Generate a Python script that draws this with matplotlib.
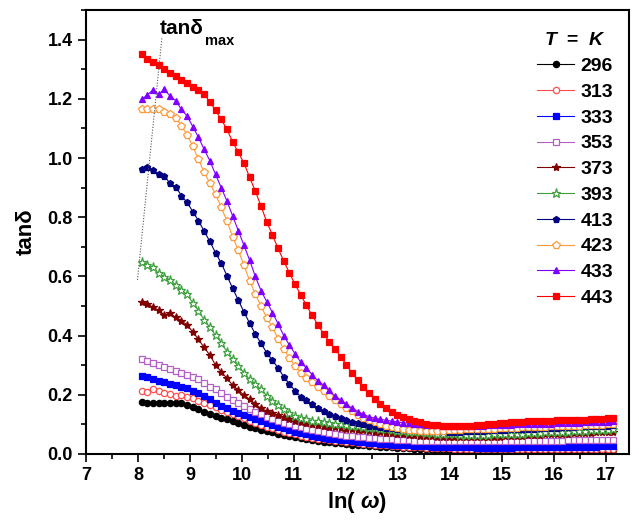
import matplotlib
matplotlib.use("Agg")
import matplotlib.pyplot as plt
import numpy as np
from matplotlib.ticker import MultipleLocator, FormatStrFormatter

plt.rcParams['font.family'] = ['Liberation Sans', 'DejaVu Sans']
plt.rcParams['font.weight'] = 'bold'
plt.rcParams['mathtext.fontset'] = 'custom'
plt.rcParams['mathtext.it'] = 'Liberation Sans:italic:bold'
plt.rcParams['mathtext.rm'] = 'Liberation Sans:bold'

# ln(omega) range covered by the measured points
lnw_start, lnw_stop = 8.07, 17.15

temps = ["296", "313", "333", "353", "373", "393", "413", "423", "433", "443"]

t296 = [.177, .173, .173, .173, .173, .171, .171, .171, .167, .160,
        .152, .143, .135, .128, .123, .117, .111, .106, .098, .092,
        .087, .081, .078, .073, .069, .064, .060, .057, .053, .051,
        .047, .045, .042, .040, .038, .036, .034, .032, .030, .029,
        .027, .026, .024, .023, .022, .021, .020, .019, .018, .017,
        .016, .015, .015, .014, .014, .013, .013, .013, .012, .012,
        .012, .012, .012, .012, .012, .012, .012, .012, .012, .012,
        .012, .012, .012, .012, .012, .012, .012, .012, .012, .012,
        .012, .012, .013, .013]
t313 = [.213, .211, .219, .214, .207, .203, .196, .199, .194, .188,
        .180, .173, .166, .158, .149, .143, .135, .128, .120, .113,
        .106, .098, .092, .087, .081, .075, .070, .066, .062, .059,
        .055, .052, .050, .047, .045, .043, .041, .039, .037, .035,
        .033, .032, .030, .029, .027, .026, .025, .024, .023, .022,
        .021, .020, .020, .019, .019, .018, .018, .017, .017, .017,
        .017, .016, .016, .016, .016, .016, .016, .016, .016, .016,
        .016, .016, .016, .016, .016, .017, .017, .017, .017, .017,
        .017, .017, .018, .018]
t333 = [.265, .261, .252, .248, .244, .236, .233, .227, .222, .214,
        .205, .196, .185, .173, .163, .154, .146, .140, .132, .126,
        .118, .111, .104, .098, .092, .087, .081, .075, .070, .066,
        .062, .059, .055, .052, .050, .048, .046, .044, .042, .040,
        .038, .036, .035, .033, .032, .031, .030, .029, .028, .027,
        .026, .025, .024, .024, .023, .023, .022, .022, .022, .021,
        .021, .021, .021, .021, .021, .021, .022, .022, .022, .022,
        .022, .023, .023, .023, .023, .024, .024, .024, .025, .025,
        .025, .026, .026, .026]
t353 = [.321, .315, .309, .301, .295, .286, .281, .275, .267, .261,
        .253, .241, .227, .219, .205, .194, .182, .171, .162, .152,
        .143, .135, .126, .118, .111, .106, .100, .095, .090, .084,
        .081, .078, .073, .070, .066, .064, .062, .060, .058, .056,
        .054, .053, .051, .050, .049, .048, .047, .046, .045, .045,
        .044, .044, .043, .043, .043, .043, .043, .043, .043, .043,
        .043, .043, .044, .044, .044, .044, .044, .044, .045, .045,
        .045, .045, .045, .045, .045, .046, .046, .046, .046, .046,
        .047, .047, .047, .047]
t373 = [.515, .507, .496, .485, .470, .475, .462, .450, .436, .413,
        .387, .360, .334, .301, .278, .256, .233, .216, .199, .185,
        .169, .154, .145, .137, .131, .124, .118, .113, .108, .104,
        .100, .097, .095, .092, .090, .088, .086, .084, .082, .080,
        .078, .076, .074, .072, .070, .068, .066, .065, .063, .062,
        .061, .060, .059, .058, .057, .057, .056, .056, .056, .057,
        .057, .058, .058, .059, .060, .061, .061, .062, .063, .064,
        .065, .066, .066, .067, .068, .069, .070, .071, .072, .072,
        .073, .074, .074, .075]
t393 = [.650, .639, .631, .610, .599, .588, .571, .554, .539, .511,
        .484, .453, .428, .401, .376, .346, .320, .297, .275, .252,
        .236, .218, .197, .180, .166, .151, .137, .128, .123, .117,
        .113, .110, .107, .104, .102, .100, .097, .095, .093, .091,
        .089, .087, .085, .083, .081, .079, .077, .076, .074, .073,
        .071, .070, .069, .068, .067, .066, .065, .065, .064, .064,
        .065, .065, .066, .066, .067, .068, .069, .069, .070, .071,
        .072, .073, .074, .075, .075, .076, .077, .078, .079, .080,
        .080, .081, .082, .083]
t413 = [.963, .971, .958, .946, .940, .914, .903, .873, .850, .819,
        .788, .753, .718, .680, .645, .603, .560, .520, .480, .442,
        .405, .374, .342, .317, .291, .261, .236, .214, .193, .181,
        .169, .156, .145, .135, .127, .120, .114, .109, .104, .100,
        .096, .093, .091, .089, .087, .085, .084, .083, .082, .080,
        .079, .078, .077, .077, .076, .076, .076, .077, .077, .078,
        .079, .080, .080, .081, .082, .083, .084, .085, .086, .086,
        .087, .088, .089, .089, .090, .091, .092, .093, .093, .094,
        .095, .096, .096, .097]
t423 = [1.166, 1.166, 1.167, 1.166, 1.157, 1.148, 1.136, 1.109, 1.078, 1.040,
        .995, .952, .915, .877, .834, .788, .734, .689, .637, .586,
        .540, .500, .460, .428, .390, .355, .323, .298, .275, .258,
        .242, .226, .212, .197, .183, .168, .156, .145, .133, .123,
        .115, .107, .101, .096, .091, .087, .084, .082, .080, .079,
        .079, .078, .078, .079, .080, .081, .082, .083, .084, .084,
        .085, .086, .086, .087, .088, .088, .089, .090, .090, .091,
        .092, .092, .093, .094, .094, .095, .096, .096, .097, .098,
        .098, .099, .100, .100]
t433 = [1.198, 1.213, 1.230, 1.215, 1.232, 1.209, 1.194, 1.164, 1.142, 1.106,
        1.070, 1.029, .991, .945, .900, .855, .805, .755, .705, .655,
        .600, .552, .515, .478, .440, .400, .368, .338, .310, .290,
        .268, .247, .233, .215, .195, .183, .168, .155, .143, .134,
        .126, .121, .117, .114, .111, .108, .106, .104, .102, .100,
        .099, .098, .097, .096, .095, .095, .095, .095, .095, .096,
        .096, .097, .097, .098, .098, .099, .100, .100, .101, .101,
        .102, .102, .103, .104, .104, .105, .105, .106, .107, .107,
        .108, .108, .109, .110]
t443 = [1.350, 1.334, 1.323, 1.313, 1.300, 1.288, 1.276, 1.265, 1.255, 1.241,
        1.229, 1.215, 1.190, 1.161, 1.131, 1.097, 1.055, 1.019, .983, .935,
        .888, .838, .785, .740, .695, .652, .612, .573, .537, .502,
        .468, .437, .406, .380, .355, .329, .302, .274, .249, .225,
        .205, .187, .170, .154, .142, .133, .124, .117, .112, .107,
        .103, .099, .097, .095, .095, .094, .094, .095, .096, .098,
        .099, .101, .102, .104, .105, .107, .108, .109, .110, .111,
        .112, .113, .113, .114, .114, .115, .115, .116, .116, .117,
        .118, .119, .121, .122]

series = [t296, t313, t333, t353, t373, t393, t413, t423, t433, t443]

# line of maxima (tan delta max guide)
guide_x = [7.99, 8.46]
guide_y = [0.588, 1.405]

colors = ['black', '#ff4d4d', '#0000ff', '#b45ec8', '#800000',
          '#3ca03c', '#000080', '#ff9a3c', '#8000ff', '#ff0000']
markers = ['o', 'o', 's', 's', '*', '*', 'p', 'p', '^', 's']
filled = [True, False, True, False, True, False, True, False, True, True]
sizes = [4.5, 4.5, 4.5, 5, 6, 6.5, 5, 5.5, 5, 4.5]

fig = plt.figure(figsize=(6.39, 5.21), dpi=100)
ax = fig.add_axes([0.1346, 0.1286, 0.8498, 0.8522])

for t, y, c, m, f, s in zip(temps, series, colors, markers, filled, sizes):
    x = np.linspace(lnw_start, lnw_stop, len(y))
    ax.plot(x, y, color=c, lw=0.8, marker=m, ms=s,
            mfc=c if f else 'white', mec=c, mew=0.9, label=t)

ax.plot(guide_x, guide_y, ls=(0, (1, 1.5)), color='#555555', lw=0.8)
tt = ax.text(8.42, 1.42, "tanδ", fontsize=15, fontweight='bold', ha='left', va='baseline')
ax.annotate("max", xy=(1, 0), xycoords=tt, xytext=(1, -5), textcoords='offset points',
            fontsize=10.5, fontweight='bold', ha='left', va='baseline')

ax.set_xlim(7, 17.45)
ax.set_ylim(0, 1.5)
ax.xaxis.set_major_locator(MultipleLocator(1))
ax.xaxis.set_minor_locator(MultipleLocator(0.5))
ax.yaxis.set_major_locator(MultipleLocator(0.2))
ax.yaxis.set_minor_locator(MultipleLocator(0.1))
ax.yaxis.set_major_formatter(FormatStrFormatter('%.1f'))
ax.tick_params(which='major', direction='out', length=6, width=1.2, labelsize=13)
ax.tick_params(which='minor', direction='out', length=3.5, width=1.2)
for lab in ax.get_xticklabels() + ax.get_yticklabels():
    lab.set_fontweight('bold')
for sp in ax.spines.values():
    sp.set_linewidth(1.5)

ax.set_xlabel(r"ln( $\omega$)", fontsize=16, fontweight='bold', labelpad=4)
ax.set_ylabel("tanδ", fontsize=16, fontweight='bold', labelpad=8)

leg = ax.legend(loc='upper right', bbox_to_anchor=(1.0, 0.985), frameon=False,
                title=r"$T$  =  $K$", handlelength=1.9, handletextpad=0.35,
                labelspacing=0.42, borderaxespad=0.4,
                prop={'size': 14, 'weight': 'bold'},
                title_fontproperties={'size': 14, 'weight': 'bold'})

fig.savefig("out.png", dpi=100)
